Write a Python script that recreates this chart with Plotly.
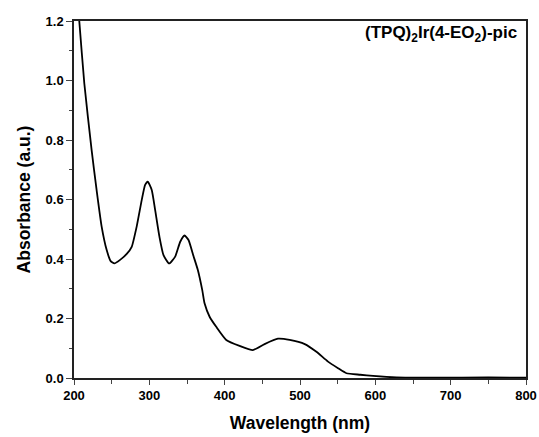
import plotly.graph_objects as go

wavelength = [204, 207, 213.7, 223.4, 230, 236.7, 243.4, 248.7, 253.6, 261.2, 270, 276.6, 283.2,
              289.9, 294.4, 297.9, 303.2, 307.7, 313.4, 318.8, 326.3, 334.3, 341, 346.7, 352,
              358.6, 364.4, 370.2, 373.3, 380, 388.8, 402.1, 419.8, 437.5, 453, 470.7, 486.3,
              506.3, 521.8, 537.2, 550.5, 561.7, 580, 597, 628, 680, 750, 800]
absorbance = [1.29, 1.2, 0.99, 0.766, 0.632, 0.509, 0.430, 0.393, 0.385, 0.397, 0.417, 0.441, 0.509,
              0.598, 0.649, 0.660, 0.632, 0.565, 0.475, 0.413, 0.385, 0.408, 0.458, 0.479, 0.464,
              0.410, 0.363, 0.296, 0.251, 0.206, 0.172, 0.128, 0.108, 0.094, 0.114, 0.132, 0.128,
              0.114, 0.088, 0.055, 0.033, 0.016, 0.011, 0.007, 0.002, 0.001, 0.002, 0.001]

label = "(TPQ)<sub>2</sub>Ir(4-EO<sub>2</sub>)-pic"

fig = go.Figure(go.Scatter(x=wavelength, y=absorbance, mode="lines",
                           line=dict(color="black", width=1.8, shape="spline", smoothing=0.5),
                           showlegend=False, hoverinfo="skip"))

font = "Liberation Sans, Arial, sans-serif"
fig.update_layout(
    width=539, height=437,
    margin=dict(l=74, r=13, t=21, b=59),
    paper_bgcolor="white", plot_bgcolor="white",
    font=dict(family=font, color="black"),
    xaxis=dict(range=[200, 800], dtick=100, tick0=200, ticks="outside", ticklen=5, tickwidth=1.2,
               showline=True, linecolor="#222", linewidth=1.5, mirror=True, showgrid=False,
               zeroline=False, automargin=False, ticklabeloverflow="allow",
               tickfont=dict(size=13, family=font, weight="bold"),
               minor=dict(dtick=50, ticks="outside", ticklen=4, tickwidth=1.2, showgrid=False),
               title=dict(text="<b>Wavelength (nm)</b>", font=dict(size=17.5), standoff=14)),
    yaxis=dict(range=[0, 1.2], dtick=0.2, tick0=0, ticks="outside", ticklen=6, tickwidth=1.2,
               tickformat=".1f",
               showline=True, linecolor="#222", linewidth=1.5, mirror=True, showgrid=False,
               zeroline=False, automargin=False,
               tickfont=dict(size=13, family=font, weight="bold"),
               minor=dict(dtick=0.1, ticks="outside", ticklen=3, tickwidth=1.2, showgrid=False),
               title=dict(text="<b>Absorbance (a.u.)</b>", font=dict(size=17.5), standoff=10)),
    annotations=[dict(text="<b>" + label + "</b>", x=0.985, y=1.0, xref="paper", yref="paper",
                      xanchor="right", yanchor="top", showarrow=False,
                      font=dict(size=17, family=font, color="black"))],
)

fig.write_html("out.html", config={"displayModeBar": False},
               post_script="document.body.style.margin='0';")
